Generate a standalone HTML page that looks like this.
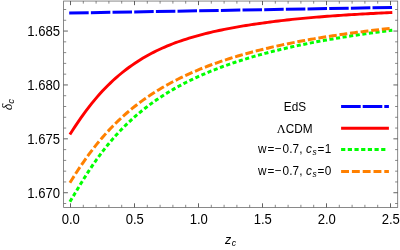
<!DOCTYPE html>
<html><head><meta charset="utf-8"><title>plot</title>
<style>
html,body{margin:0;padding:0;background:#fff;}
body{width:400px;height:250px;overflow:hidden;}
svg{display:block;}
text{font-family:"Liberation Sans",sans-serif;fill:#000;}
.ax text{font-size:13.1px;}
.lg text{font-size:11.8px;}
.it{font-style:italic;}
.ser{font-family:"Liberation Serif",serif;}
</style></head><body>
<svg width="400" height="250" viewBox="0 0 400 250">
<rect width="400" height="250" fill="#fff"/>
<g fill="none" stroke-linecap="butt" stroke-linejoin="round">
<path d="M69.2,13.1 L392.1,7.4" stroke="#0000ff" stroke-width="3" stroke-dasharray="19.5 2.17"/>
<path d="M69.90,134.58 L72.61,130.32 L75.32,126.16 L78.03,122.11 L80.74,118.18 L83.45,114.37 L86.16,110.69 L88.86,107.12 L91.57,103.68 L94.28,100.36 L96.99,97.16 L99.70,94.07 L102.41,91.10 L105.12,88.24 L107.83,85.49 L110.54,82.85 L113.25,80.31 L115.96,77.87 L118.67,75.52 L121.38,73.26 L124.08,71.09 L126.79,69.01 L129.50,67.01 L132.21,65.08 L134.92,63.23 L137.63,61.45 L140.34,59.74 L143.05,58.10 L145.76,56.52 L148.47,55.00 L151.18,53.54 L153.89,52.13 L156.60,50.78 L159.31,49.48 L162.01,48.24 L164.72,47.05 L167.43,45.91 L170.14,44.81 L172.85,43.75 L175.56,42.73 L178.27,41.75 L180.98,40.80 L183.69,39.89 L186.40,39.01 L189.11,38.16 L191.82,37.35 L194.53,36.56 L197.23,35.80 L199.94,35.06 L202.65,34.35 L205.36,33.65 L208.07,32.99 L210.78,32.34 L213.49,31.71 L216.20,31.11 L218.91,30.52 L221.62,29.96 L224.33,29.41 L227.04,28.87 L229.75,28.34 L232.45,27.83 L235.16,27.33 L237.87,26.85 L240.58,26.38 L243.29,25.92 L246.00,25.48 L248.71,25.06 L251.42,24.64 L254.13,24.24 L256.84,23.85 L259.55,23.47 L262.26,23.08 L264.97,22.70 L267.67,22.34 L270.38,21.98 L273.09,21.63 L275.80,21.29 L278.51,20.96 L281.22,20.64 L283.93,20.32 L286.64,20.02 L289.35,19.72 L292.06,19.43 L294.77,19.14 L297.48,18.87 L300.19,18.60 L302.89,18.34 L305.60,18.09 L308.31,17.85 L311.02,17.61 L313.73,17.38 L316.44,17.16 L319.15,16.94 L321.86,16.72 L324.57,16.51 L327.28,16.31 L329.99,16.11 L332.70,15.91 L335.41,15.72 L338.12,15.53 L340.82,15.35 L343.53,15.17 L346.24,14.99 L348.95,14.82 L351.66,14.65 L354.37,14.49 L357.08,14.33 L359.79,14.17 L362.50,14.01 L365.21,13.86 L367.92,13.71 L370.63,13.57 L373.34,13.43 L376.04,13.29 L378.75,13.15 L381.46,13.02 L384.17,12.88 L386.88,12.75 L389.59,12.63 L392.30,12.50" stroke="#ff0000" stroke-width="2.9"/>
<path d="M69.90,201.84 L72.61,197.34 L75.32,192.80 L78.03,188.28 L80.74,183.81 L83.45,179.42 L86.16,175.12 L88.86,170.92 L91.57,166.83 L94.28,162.86 L96.99,159.01 L99.70,155.28 L102.41,151.67 L105.12,148.18 L107.83,144.81 L110.54,141.54 L113.25,138.39 L115.96,135.34 L118.67,132.39 L121.38,129.54 L124.08,126.79 L126.79,124.12 L129.50,121.55 L132.21,119.05 L134.92,116.64 L137.63,114.30 L140.34,112.04 L143.05,109.84 L145.76,107.72 L148.47,105.66 L151.18,103.66 L153.89,101.72 L156.60,99.83 L159.31,98.00 L162.01,96.23 L164.72,94.50 L167.43,92.82 L170.14,91.19 L172.85,89.60 L175.56,88.06 L178.27,86.55 L180.98,85.09 L183.69,83.67 L186.40,82.28 L189.11,80.92 L191.82,79.60 L194.53,78.32 L197.23,77.06 L199.94,75.83 L202.65,74.64 L205.36,73.47 L208.07,72.33 L210.78,71.22 L213.49,70.13 L216.20,69.07 L218.91,68.03 L221.62,67.01 L224.33,66.02 L227.04,65.05 L229.75,64.10 L232.45,63.17 L235.16,62.26 L237.87,61.37 L240.58,60.50 L243.29,59.64 L246.00,58.81 L248.71,57.99 L251.42,57.18 L254.13,56.40 L256.84,55.62 L259.55,54.87 L262.26,54.13 L264.97,53.40 L267.67,52.68 L270.38,51.98 L273.09,51.30 L275.80,50.62 L278.51,49.96 L281.22,49.31 L283.93,48.67 L286.64,48.05 L289.35,47.43 L292.06,46.83 L294.77,46.24 L297.48,45.65 L300.19,45.08 L302.89,44.52 L305.60,43.97 L308.31,43.42 L311.02,42.89 L313.73,42.36 L316.44,41.84 L319.15,41.34 L321.86,40.84 L324.57,40.34 L327.28,39.86 L329.99,39.39 L332.70,38.92 L335.41,38.46 L338.12,38.00 L340.82,37.56 L343.53,37.12 L346.24,36.68 L348.95,36.26 L351.66,35.84 L354.37,35.43 L357.08,35.02 L359.79,34.62 L362.50,34.22 L365.21,33.83 L367.92,33.45 L370.63,33.07 L373.34,32.70 L376.04,32.33 L378.75,31.97 L381.46,31.62 L384.17,31.27 L386.88,30.92 L389.59,30.58 L392.30,30.24" stroke="#00ff00" stroke-width="3" stroke-dasharray="4.1 2.558"/>
<path d="M69.90,182.79 L72.61,178.46 L75.32,174.20 L78.03,170.04 L80.74,165.99 L83.45,162.03 L86.16,158.19 L88.86,154.46 L91.57,150.85 L94.28,147.34 L96.99,143.94 L99.70,140.65 L102.41,137.47 L105.12,134.38 L107.83,131.40 L110.54,128.51 L113.25,125.71 L115.96,123.00 L118.67,120.38 L121.38,117.84 L124.08,115.38 L126.79,113.00 L129.50,110.69 L132.21,108.46 L134.92,106.29 L137.63,104.18 L140.34,102.14 L143.05,100.16 L145.76,98.24 L148.47,96.38 L151.18,94.56 L153.89,92.81 L156.60,91.10 L159.31,89.43 L162.01,87.82 L164.72,86.25 L167.43,84.72 L170.14,83.23 L172.85,81.79 L175.56,80.38 L178.27,79.01 L180.98,77.67 L183.69,76.37 L186.40,75.10 L189.11,73.87 L191.82,72.66 L194.53,71.49 L197.23,70.34 L199.94,69.22 L202.65,68.13 L205.36,67.06 L208.07,66.02 L210.78,65.01 L213.49,64.02 L216.20,63.05 L218.91,62.10 L221.62,61.18 L224.33,60.27 L227.04,59.39 L229.75,58.52 L232.45,57.67 L235.16,56.85 L237.87,56.04 L240.58,55.24 L243.29,54.47 L246.00,53.71 L248.71,52.96 L251.42,52.24 L254.13,51.52 L256.84,50.82 L259.55,50.14 L262.26,49.47 L264.97,48.81 L267.67,48.17 L270.38,47.53 L273.09,46.91 L275.80,46.30 L278.51,45.71 L281.22,45.12 L283.93,44.55 L286.64,43.99 L289.35,43.43 L292.06,42.89 L294.77,42.36 L297.48,41.83 L300.19,41.32 L302.89,40.81 L305.60,40.32 L308.31,39.83 L311.02,39.35 L313.73,38.88 L316.44,38.42 L319.15,37.97 L321.86,37.52 L324.57,37.08 L327.28,36.65 L329.99,36.23 L332.70,35.81 L335.41,35.40 L338.12,35.00 L340.82,34.60 L343.53,34.21 L346.24,33.82 L348.95,33.45 L351.66,33.07 L354.37,32.71 L357.08,32.35 L359.79,31.99 L362.50,31.64 L365.21,31.30 L367.92,30.96 L370.63,30.63 L373.34,30.30 L376.04,29.98 L378.75,29.66 L381.46,29.34 L384.17,29.03 L386.88,28.73 L389.59,28.43 L392.30,28.13" stroke="#ff8000" stroke-width="3" stroke-dasharray="7.9 2.77"/>
</g>
<rect x="63.6" y="1.05" width="334.09999999999997" height="206.35" fill="none" stroke="#6c6c6c" stroke-width="0.8"/>
<g><line x1="70.50" y1="207.40" x2="70.50" y2="203.30" stroke="#444" stroke-width="0.85"/><line x1="70.50" y1="1.05" x2="70.50" y2="5.15" stroke="#444" stroke-width="0.85"/><line x1="83.30" y1="207.40" x2="83.30" y2="204.80" stroke="#606060" stroke-width="0.75"/><line x1="83.30" y1="1.05" x2="83.30" y2="3.65" stroke="#606060" stroke-width="0.75"/><line x1="96.10" y1="207.40" x2="96.10" y2="204.80" stroke="#606060" stroke-width="0.75"/><line x1="96.10" y1="1.05" x2="96.10" y2="3.65" stroke="#606060" stroke-width="0.75"/><line x1="108.90" y1="207.40" x2="108.90" y2="204.80" stroke="#606060" stroke-width="0.75"/><line x1="108.90" y1="1.05" x2="108.90" y2="3.65" stroke="#606060" stroke-width="0.75"/><line x1="121.70" y1="207.40" x2="121.70" y2="204.80" stroke="#606060" stroke-width="0.75"/><line x1="121.70" y1="1.05" x2="121.70" y2="3.65" stroke="#606060" stroke-width="0.75"/><line x1="134.50" y1="207.40" x2="134.50" y2="203.30" stroke="#444" stroke-width="0.85"/><line x1="134.50" y1="1.05" x2="134.50" y2="5.15" stroke="#444" stroke-width="0.85"/><line x1="147.30" y1="207.40" x2="147.30" y2="204.80" stroke="#606060" stroke-width="0.75"/><line x1="147.30" y1="1.05" x2="147.30" y2="3.65" stroke="#606060" stroke-width="0.75"/><line x1="160.10" y1="207.40" x2="160.10" y2="204.80" stroke="#606060" stroke-width="0.75"/><line x1="160.10" y1="1.05" x2="160.10" y2="3.65" stroke="#606060" stroke-width="0.75"/><line x1="172.90" y1="207.40" x2="172.90" y2="204.80" stroke="#606060" stroke-width="0.75"/><line x1="172.90" y1="1.05" x2="172.90" y2="3.65" stroke="#606060" stroke-width="0.75"/><line x1="185.70" y1="207.40" x2="185.70" y2="204.80" stroke="#606060" stroke-width="0.75"/><line x1="185.70" y1="1.05" x2="185.70" y2="3.65" stroke="#606060" stroke-width="0.75"/><line x1="198.50" y1="207.40" x2="198.50" y2="203.30" stroke="#444" stroke-width="0.85"/><line x1="198.50" y1="1.05" x2="198.50" y2="5.15" stroke="#444" stroke-width="0.85"/><line x1="211.30" y1="207.40" x2="211.30" y2="204.80" stroke="#606060" stroke-width="0.75"/><line x1="211.30" y1="1.05" x2="211.30" y2="3.65" stroke="#606060" stroke-width="0.75"/><line x1="224.10" y1="207.40" x2="224.10" y2="204.80" stroke="#606060" stroke-width="0.75"/><line x1="224.10" y1="1.05" x2="224.10" y2="3.65" stroke="#606060" stroke-width="0.75"/><line x1="236.90" y1="207.40" x2="236.90" y2="204.80" stroke="#606060" stroke-width="0.75"/><line x1="236.90" y1="1.05" x2="236.90" y2="3.65" stroke="#606060" stroke-width="0.75"/><line x1="249.70" y1="207.40" x2="249.70" y2="204.80" stroke="#606060" stroke-width="0.75"/><line x1="249.70" y1="1.05" x2="249.70" y2="3.65" stroke="#606060" stroke-width="0.75"/><line x1="262.50" y1="207.40" x2="262.50" y2="203.30" stroke="#444" stroke-width="0.85"/><line x1="262.50" y1="1.05" x2="262.50" y2="5.15" stroke="#444" stroke-width="0.85"/><line x1="275.30" y1="207.40" x2="275.30" y2="204.80" stroke="#606060" stroke-width="0.75"/><line x1="275.30" y1="1.05" x2="275.30" y2="3.65" stroke="#606060" stroke-width="0.75"/><line x1="288.10" y1="207.40" x2="288.10" y2="204.80" stroke="#606060" stroke-width="0.75"/><line x1="288.10" y1="1.05" x2="288.10" y2="3.65" stroke="#606060" stroke-width="0.75"/><line x1="300.90" y1="207.40" x2="300.90" y2="204.80" stroke="#606060" stroke-width="0.75"/><line x1="300.90" y1="1.05" x2="300.90" y2="3.65" stroke="#606060" stroke-width="0.75"/><line x1="313.70" y1="207.40" x2="313.70" y2="204.80" stroke="#606060" stroke-width="0.75"/><line x1="313.70" y1="1.05" x2="313.70" y2="3.65" stroke="#606060" stroke-width="0.75"/><line x1="326.50" y1="207.40" x2="326.50" y2="203.30" stroke="#444" stroke-width="0.85"/><line x1="326.50" y1="1.05" x2="326.50" y2="5.15" stroke="#444" stroke-width="0.85"/><line x1="339.30" y1="207.40" x2="339.30" y2="204.80" stroke="#606060" stroke-width="0.75"/><line x1="339.30" y1="1.05" x2="339.30" y2="3.65" stroke="#606060" stroke-width="0.75"/><line x1="352.10" y1="207.40" x2="352.10" y2="204.80" stroke="#606060" stroke-width="0.75"/><line x1="352.10" y1="1.05" x2="352.10" y2="3.65" stroke="#606060" stroke-width="0.75"/><line x1="364.90" y1="207.40" x2="364.90" y2="204.80" stroke="#606060" stroke-width="0.75"/><line x1="364.90" y1="1.05" x2="364.90" y2="3.65" stroke="#606060" stroke-width="0.75"/><line x1="377.70" y1="207.40" x2="377.70" y2="204.80" stroke="#606060" stroke-width="0.75"/><line x1="377.70" y1="1.05" x2="377.70" y2="3.65" stroke="#606060" stroke-width="0.75"/><line x1="390.50" y1="207.40" x2="390.50" y2="203.30" stroke="#444" stroke-width="0.85"/><line x1="390.50" y1="1.05" x2="390.50" y2="5.15" stroke="#444" stroke-width="0.85"/><line x1="63.60" y1="203.51" x2="66.20" y2="203.51" stroke="#606060" stroke-width="0.75"/><line x1="397.70" y1="203.51" x2="395.10" y2="203.51" stroke="#606060" stroke-width="0.75"/><line x1="63.60" y1="192.73" x2="67.90" y2="192.73" stroke="#444" stroke-width="0.85"/><line x1="397.70" y1="192.73" x2="393.40" y2="192.73" stroke="#444" stroke-width="0.85"/><line x1="63.60" y1="181.95" x2="66.20" y2="181.95" stroke="#606060" stroke-width="0.75"/><line x1="397.70" y1="181.95" x2="395.10" y2="181.95" stroke="#606060" stroke-width="0.75"/><line x1="63.60" y1="171.17" x2="66.20" y2="171.17" stroke="#606060" stroke-width="0.75"/><line x1="397.70" y1="171.17" x2="395.10" y2="171.17" stroke="#606060" stroke-width="0.75"/><line x1="63.60" y1="160.40" x2="66.20" y2="160.40" stroke="#606060" stroke-width="0.75"/><line x1="397.70" y1="160.40" x2="395.10" y2="160.40" stroke="#606060" stroke-width="0.75"/><line x1="63.60" y1="149.62" x2="66.20" y2="149.62" stroke="#606060" stroke-width="0.75"/><line x1="397.70" y1="149.62" x2="395.10" y2="149.62" stroke="#606060" stroke-width="0.75"/><line x1="63.60" y1="138.84" x2="67.90" y2="138.84" stroke="#444" stroke-width="0.85"/><line x1="397.70" y1="138.84" x2="393.40" y2="138.84" stroke="#444" stroke-width="0.85"/><line x1="63.60" y1="128.06" x2="66.20" y2="128.06" stroke="#606060" stroke-width="0.75"/><line x1="397.70" y1="128.06" x2="395.10" y2="128.06" stroke="#606060" stroke-width="0.75"/><line x1="63.60" y1="117.28" x2="66.20" y2="117.28" stroke="#606060" stroke-width="0.75"/><line x1="397.70" y1="117.28" x2="395.10" y2="117.28" stroke="#606060" stroke-width="0.75"/><line x1="63.60" y1="106.51" x2="66.20" y2="106.51" stroke="#606060" stroke-width="0.75"/><line x1="397.70" y1="106.51" x2="395.10" y2="106.51" stroke="#606060" stroke-width="0.75"/><line x1="63.60" y1="95.73" x2="66.20" y2="95.73" stroke="#606060" stroke-width="0.75"/><line x1="397.70" y1="95.73" x2="395.10" y2="95.73" stroke="#606060" stroke-width="0.75"/><line x1="63.60" y1="84.95" x2="67.90" y2="84.95" stroke="#444" stroke-width="0.85"/><line x1="397.70" y1="84.95" x2="393.40" y2="84.95" stroke="#444" stroke-width="0.85"/><line x1="63.60" y1="74.17" x2="66.20" y2="74.17" stroke="#606060" stroke-width="0.75"/><line x1="397.70" y1="74.17" x2="395.10" y2="74.17" stroke="#606060" stroke-width="0.75"/><line x1="63.60" y1="63.39" x2="66.20" y2="63.39" stroke="#606060" stroke-width="0.75"/><line x1="397.70" y1="63.39" x2="395.10" y2="63.39" stroke="#606060" stroke-width="0.75"/><line x1="63.60" y1="52.62" x2="66.20" y2="52.62" stroke="#606060" stroke-width="0.75"/><line x1="397.70" y1="52.62" x2="395.10" y2="52.62" stroke="#606060" stroke-width="0.75"/><line x1="63.60" y1="41.84" x2="66.20" y2="41.84" stroke="#606060" stroke-width="0.75"/><line x1="397.70" y1="41.84" x2="395.10" y2="41.84" stroke="#606060" stroke-width="0.75"/><line x1="63.60" y1="31.06" x2="67.90" y2="31.06" stroke="#444" stroke-width="0.85"/><line x1="397.70" y1="31.06" x2="393.40" y2="31.06" stroke="#444" stroke-width="0.85"/><line x1="63.60" y1="20.28" x2="66.20" y2="20.28" stroke="#606060" stroke-width="0.75"/><line x1="397.70" y1="20.28" x2="395.10" y2="20.28" stroke="#606060" stroke-width="0.75"/><line x1="63.60" y1="9.50" x2="66.20" y2="9.50" stroke="#606060" stroke-width="0.75"/><line x1="397.70" y1="9.50" x2="395.10" y2="9.50" stroke="#606060" stroke-width="0.75"/></g>
<g class="ax"><text transform="translate(70.8,223.6) scale(1,1.05)" text-anchor="middle">0.0</text><text transform="translate(134.8,223.6) scale(1,1.05)" text-anchor="middle">0.5</text><text transform="translate(198.8,223.6) scale(1,1.05)" text-anchor="middle">1.0</text><text transform="translate(262.8,223.6) scale(1,1.05)" text-anchor="middle">1.5</text><text transform="translate(326.8,223.6) scale(1,1.05)" text-anchor="middle">2.0</text><text transform="translate(390.8,223.6) scale(1,1.05)" text-anchor="middle">2.5</text><text transform="translate(60.1,197.68) scale(1,1.05)" text-anchor="end">1.670</text><text transform="translate(60.1,143.79) scale(1,1.05)" text-anchor="end">1.675</text><text transform="translate(60.1,89.90) scale(1,1.05)" text-anchor="end">1.680</text><text transform="translate(60.1,36.01) scale(1,1.05)" text-anchor="end">1.685</text></g>
<g class="ax">
<text x="225" y="243.8" class="it" style="font-size:12.5px">z<tspan dx="0.4" dy="2.6" style="font-size:8.8px">c</tspan></text>
<text transform="translate(11.7,110.3) rotate(-90) scale(0.9,1)" class="it ser" style="font-size:15.5px">δ</text><text transform="translate(14.4,103.7) rotate(-90)" class="it" style="font-size:9.6px">c</text>
</g>
<g class="lg">
<text transform="translate(295,111) scale(1,1.07)" text-anchor="middle">EdS</text>
<text transform="translate(294.7,133) scale(1,1.07)" text-anchor="middle"><tspan class="ser" style="font-size:12.4px">Λ</tspan>CDM</text>
<g transform="translate(0,153.3) scale(1,1.07)"><text y="0" x="258.1 267.4 274.5 282.5 289.3 292.5 299.2">w=−0.7,</text><text y="0" x="305.9" class="it">c</text><text y="1.5" x="312.4" class="it" style="font-size:8.4px">s</text><text y="0" x="317.4 324.7">=1</text></g>
<g transform="translate(0,175.1) scale(1,1.07)"><text y="0" x="258.1 267.4 274.5 282.5 289.3 292.5 299.2">w=−0.7,</text><text y="0" x="305.9" class="it">c</text><text y="1.5" x="312.4" class="it" style="font-size:8.4px">s</text><text y="0" x="317.4 324.7">=0</text></g>
<g fill="none" stroke-width="3">
<path d="M341.1,106.4 H388.9" stroke="#0000ff" stroke-dasharray="19.6 2.0"/>
<path d="M341.1,128.2 H388.9" stroke="#ff0000"/>
<path d="M341.1,149.6 H386" stroke="#00ff00" stroke-dasharray="4.2 2.48"/>
<path d="M341.1,171.4 H388.9" stroke="#ff8000" stroke-dasharray="7.9 2.9"/>
</g>
</g>
</svg>
</body></html>
